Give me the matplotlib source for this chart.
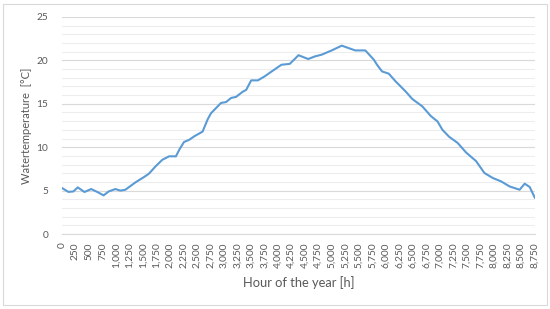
import numpy as np
import matplotlib.pyplot as plt
from matplotlib.ticker import FuncFormatter, MultipleLocator
from matplotlib.patches import Rectangle

# hour of year and water temperature
hours = [0, 118, 210, 292, 416, 540, 645, 770, 864, 988, 1081, 1174, 1361,
         1516, 1610, 1734, 1858, 1983, 2110, 2180, 2260, 2355, 2448, 2604,
         2697, 2758, 2945, 3038, 3131, 3224, 3349, 3411, 3504, 3628, 3753,
         3877, 4064, 4218, 4300, 4380, 4559, 4684, 4809, 4995, 5181, 5430,
         5617, 5773, 5834, 5927, 6052, 6176, 6363, 6488, 6674, 6829, 6954,
         7046, 7170, 7326, 7482, 7668, 7823, 7979, 8133, 8289, 8475, 8569,
         8662, 8755]
temp = [5.3, 4.85, 4.9, 5.37, 4.84, 5.18, 4.87, 4.45, 4.9, 5.18, 5.0, 5.1,
        5.95, 6.55, 6.95, 7.8, 8.55, 8.95, 8.95, 9.8, 10.6, 10.85, 11.25,
        11.8, 13.2, 13.9, 15.1, 15.2, 15.67, 15.8, 16.4, 16.6, 17.7, 17.7,
        18.16, 18.7, 19.5, 19.6, 20.1, 20.6, 20.16, 20.46, 20.66, 21.15, 21.7,
        21.15, 21.15, 20.1, 19.5, 18.73, 18.47, 17.6, 16.43, 15.55, 14.7,
        13.6, 12.97, 12.0, 11.2, 10.5, 9.4, 8.4, 7.03, 6.45, 6.06, 5.48, 5.1,
        5.8, 5.41, 4.2]

x_ticks = np.arange(0, 8751, 250)

txt = '#595959'
plt.rcParams['font.family'] = ['Lato', 'DejaVu Sans']

fig = plt.figure(figsize=(5.5, 3.09), dpi=100)
# light chart-area border like the Excel original
fig.patches.append(Rectangle((3 / 550, 4 / 309), 544 / 550, 301 / 309,
                             transform=fig.transFigure, fill=False,
                             edgecolor='#D9D9D9', linewidth=0.8))

ax = fig.add_axes([62 / 550, 75 / 309, 473 / 550, 217 / 309])
ax.plot(hours, temp, color='#5B9BD5', linewidth=1.5)

ax.set_xlim(0, 8760)
ax.set_ylim(0, 25)
ax.set_xticks(x_ticks)
ax.xaxis.set_major_formatter(FuncFormatter(lambda v, p: f'{int(v):,}'))
ax.yaxis.set_major_locator(MultipleLocator(5))
ax.yaxis.set_minor_locator(MultipleLocator(1))
ax.grid(axis='y', which='major', color='#D9D9D9', linewidth=0.8)
ax.grid(axis='y', which='minor', color='#EDEDED', linewidth=0.8)
ax.set_axisbelow(True)

for s in ['top', 'right', 'left']:
    ax.spines[s].set_visible(False)
ax.spines['bottom'].set_color('#D9D9D9')

ax.tick_params(axis='x', which='both', length=0, labelrotation=90,
               labelsize=7.3, labelcolor=txt, pad=6)
ax.tick_params(axis='y', which='both', length=0, labelsize=7.3,
               labelcolor=txt, pad=10)

ax.set_xlabel('Hour of the year [h]', fontsize=9.3, color=txt, labelpad=6)
ax.set_ylabel('Watertemperature  [°C]', fontsize=8, color=txt, labelpad=3)

fig.savefig('out.png', dpi=100)
